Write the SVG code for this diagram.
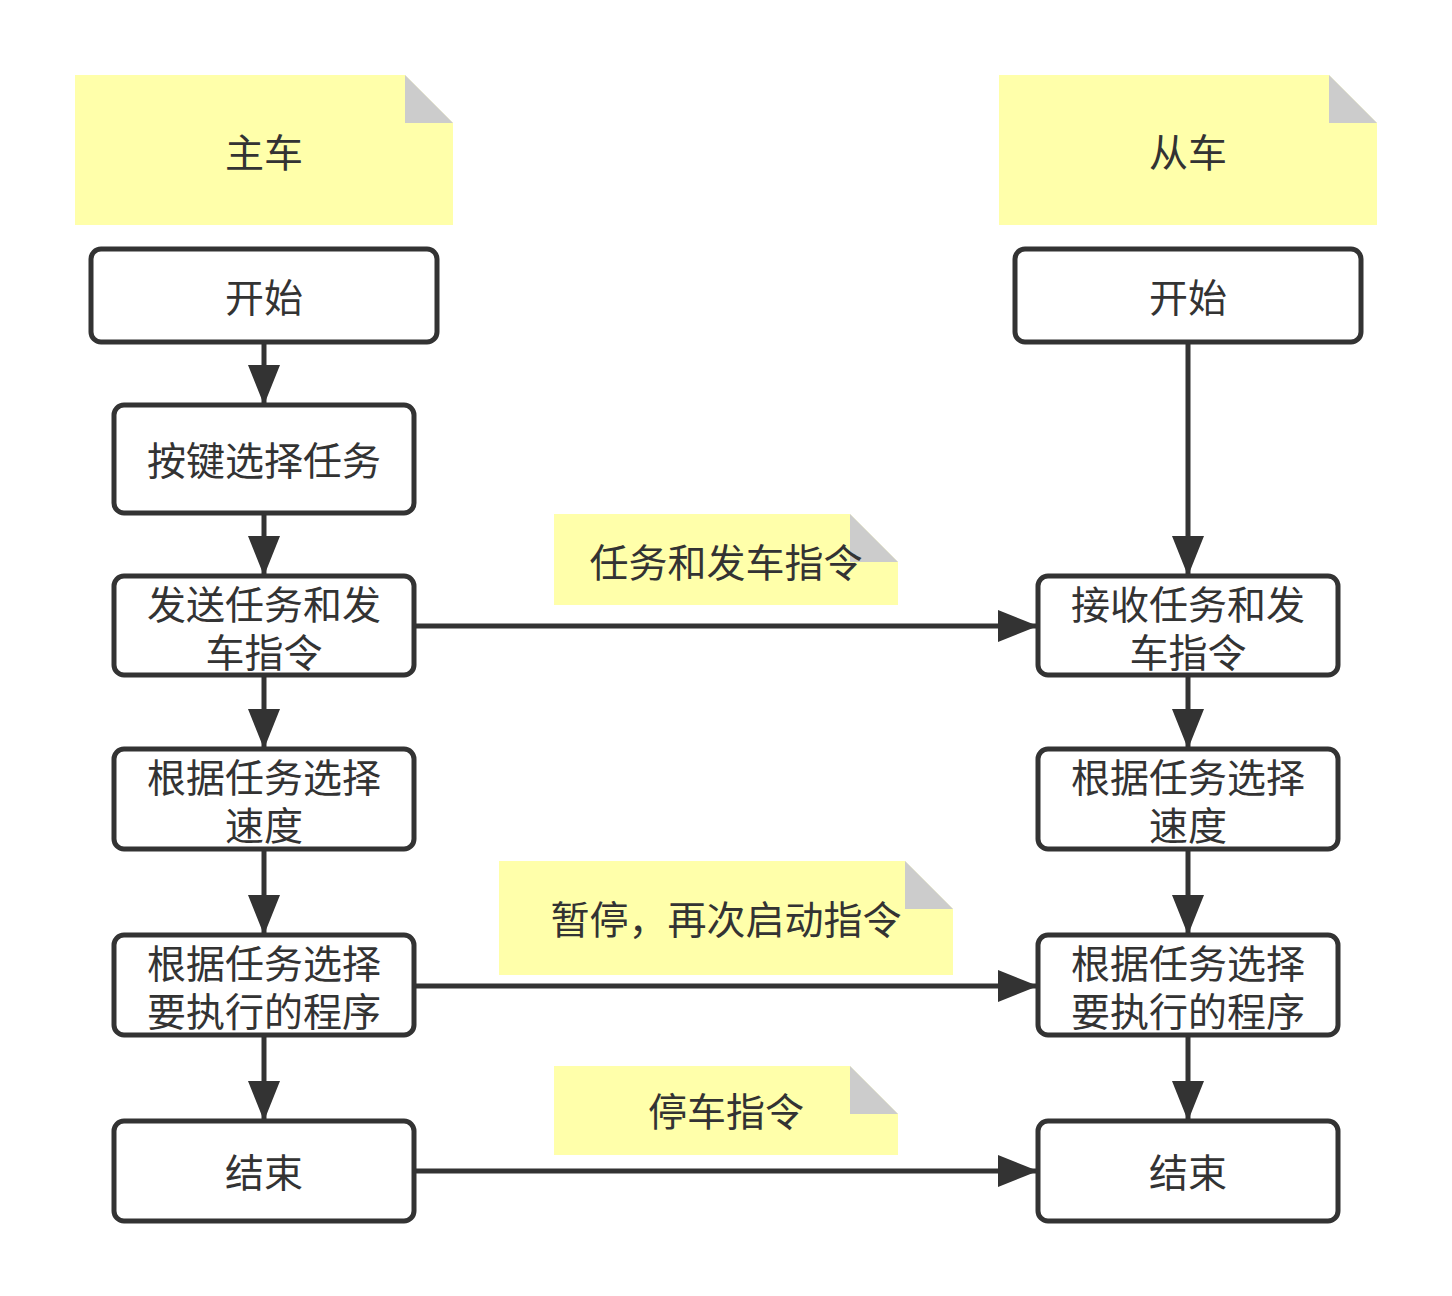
<svg xmlns="http://www.w3.org/2000/svg" width="1452" height="1296" viewBox="0 0 1452 1296">
<defs>
<style>
.box{fill:#fff;stroke:#333;stroke-width:5}
.note{fill:#ffffaa}
.fold{fill:#cccccc}
.t{font-family:"Noto Sans CJK SC","Noto Sans",sans-serif;font-size:39px;fill:#333;text-anchor:middle;dominant-baseline:central}
.c{fill:none;stroke:#333;stroke-width:5}
</style>
<marker id="ah" markerUnits="userSpaceOnUse" viewBox="0 0 40 32" refX="40" refY="16" markerWidth="40" markerHeight="32" orient="auto">
<path d="M0,0 L40,16 L0,32 Z" fill="#333"/>
</marker>
</defs>
<rect width="1452" height="1296" fill="#fff"/>

<g id="note-master">
<polygon class="note" points="75,75 405,75 453,123 453,225 75,225"/>
<polygon class="fold" points="405,75 453,123 405,123"/>
<text class="t" x="264" y="150">主车</text>
</g>
<g id="note-slave">
<polygon class="note" points="999,75 1329,75 1377,123 1377,225 999,225"/>
<polygon class="fold" points="1329,75 1377,123 1329,123"/>
<text class="t" x="1188" y="150">从车</text>
</g>
<g id="note-cmd1">
<polygon class="note" points="554,514 850,514 898,562 898,605 554,605"/>
<polygon class="fold" points="850,514 898,562 850,562"/>
<text class="t" x="726" y="560">任务和发车指令</text>
</g>
<g id="note-cmd2">
<polygon class="note" points="499,861 905,861 953,909 953,975 499,975"/>
<polygon class="fold" points="905,861 953,909 905,909"/>
<text class="t" x="726" y="917">暂停，再次启动指令</text>
</g>
<g id="note-cmd3">
<polygon class="note" points="554,1066 850,1066 898,1114 898,1155 554,1155"/>
<polygon class="fold" points="850,1066 898,1114 850,1114"/>
<text class="t" x="726" y="1109">停车指令</text>
</g>

<g id="connectors">
<path class="c" marker-end="url(#ah)" d="M264,342 L264,405"/>
<path class="c" marker-end="url(#ah)" d="M264,513 L264,576"/>
<path class="c" marker-end="url(#ah)" d="M264,675 L264,749"/>
<path class="c" marker-end="url(#ah)" d="M264,849 L264,935"/>
<path class="c" marker-end="url(#ah)" d="M264,1035 L264,1121"/>
<path class="c" marker-end="url(#ah)" d="M1188,342 L1188,576"/>
<path class="c" marker-end="url(#ah)" d="M1188,675 L1188,749"/>
<path class="c" marker-end="url(#ah)" d="M1188,849 L1188,935"/>
<path class="c" marker-end="url(#ah)" d="M1188,1035 L1188,1121"/>
<path class="c" marker-end="url(#ah)" d="M414,626 L1038,626"/>
<path class="c" marker-end="url(#ah)" d="M414,986 L1038,986"/>
<path class="c" marker-end="url(#ah)" d="M414,1171 L1038,1171"/>
</g>

<g id="m-start">
<rect class="box" x="91" y="249" width="346" height="93" rx="10"/>
<text class="t" x="264" y="295">开始</text>
</g>
<g id="m-select">
<rect class="box" x="114" y="405" width="300" height="108" rx="10"/>
<text class="t" x="264" y="458">按键选择任务</text>
</g>
<g id="m-send">
<rect class="box" x="114" y="576" width="300" height="99" rx="10"/>
<text class="t" x="264" y="602">发送任务和发</text>
<text class="t" x="264" y="650">车指令</text>
</g>
<g id="m-speed">
<rect class="box" x="114" y="749" width="300" height="100" rx="10"/>
<text class="t" x="264" y="775">根据任务选择</text>
<text class="t" x="264" y="823">速度</text>
</g>
<g id="m-prog">
<rect class="box" x="114" y="935" width="300" height="100" rx="10"/>
<text class="t" x="264" y="961">根据任务选择</text>
<text class="t" x="264" y="1009">要执行的程序</text>
</g>
<g id="m-end">
<rect class="box" x="114" y="1121" width="300" height="100" rx="10"/>
<text class="t" x="264" y="1170">结束</text>
</g>

<g id="s-start">
<rect class="box" x="1015" y="249" width="346" height="93" rx="10"/>
<text class="t" x="1188" y="295">开始</text>
</g>
<g id="s-recv">
<rect class="box" x="1038" y="576" width="300" height="99" rx="10"/>
<text class="t" x="1188" y="602">接收任务和发</text>
<text class="t" x="1188" y="650">车指令</text>
</g>
<g id="s-speed">
<rect class="box" x="1038" y="749" width="300" height="100" rx="10"/>
<text class="t" x="1188" y="775">根据任务选择</text>
<text class="t" x="1188" y="823">速度</text>
</g>
<g id="s-prog">
<rect class="box" x="1038" y="935" width="300" height="100" rx="10"/>
<text class="t" x="1188" y="961">根据任务选择</text>
<text class="t" x="1188" y="1009">要执行的程序</text>
</g>
<g id="s-end">
<rect class="box" x="1038" y="1121" width="300" height="100" rx="10"/>
<text class="t" x="1188" y="1170">结束</text>
</g>
</svg>
